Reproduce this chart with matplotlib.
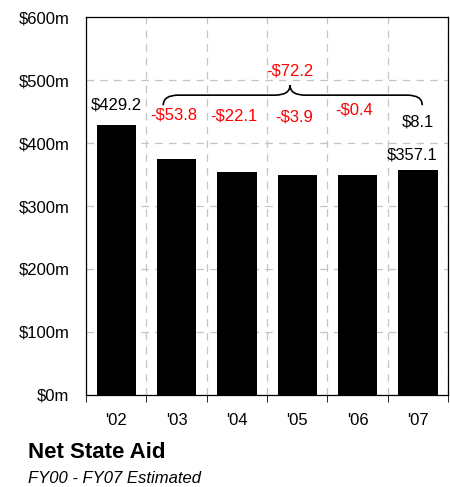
import matplotlib.pyplot as plt
import numpy as np
from matplotlib.path import Path
from matplotlib.patches import PathPatch

plt.rcParams['font.family'] = ['Liberation Sans', 'DejaVu Sans']

years = ["'02", "'03", "'04", "'05", "'06", "'07"]
aid = [429.2, 375.4, 353.3, 349.4, 349.0, 357.1]
changes = ['-$53.8', '-$22.1', '-$3.9', '-$0.4']
total_change = '-$72.2'
last_change = '$8.1'
y_ticks = [0, 100, 200, 300, 400, 500, 600]
y_labels = ['$0m', '$100m', '$200m', '$300m', '$400m', '$500m', '$600m']

fig = plt.figure(figsize=(4.5, 4.87), dpi=100)
ax = fig.add_axes([0.191, 0.189, 0.805, 0.776])

x = np.arange(len(years))
ax.bar(x, aid, width=0.65, color='black', zorder=3)

ax.set_xlim(-0.5, len(years) - 0.5)
ax.set_ylim(0, 600)

# labels at the centres, tick marks at the boundaries
ax.set_xticks(x, years)
ax.set_xticks(np.arange(-0.5, len(years)), minor=True)
ax.tick_params(axis='x', which='major', length=0, pad=13, labelsize=12)
ax.tick_params(axis='x', which='minor', length=5, direction='out')
ax.set_yticks(y_ticks, y_labels)
ax.tick_params(axis='y', length=0, pad=12, labelsize=12)

ax.grid(axis='y', which='major', color='#c4c4c4', linestyle=(0, (6, 5)), linewidth=0.9, zorder=0)
ax.grid(axis='x', which='minor', color='#c4c4c4', linestyle=(0, (6, 5)), linewidth=0.9, zorder=0)
ax.grid(axis='x', which='major', visible=False)

for s in ax.spines.values():
    s.set_linewidth(0.9)

# value labels
fs = 12
ax.text(0, 460, '$' + str(aid[0]), ha='center', va='center', fontsize=fs)
ax.text(4.9, 381, '$' + str(aid[-1]), ha='center', va='center', fontsize=fs)
ch_y = [444, 443, 441, 452]
for i, (c, yy) in enumerate(zip(changes, ch_y)):
    ax.text(i + 0.95, yy, c, ha='center', va='center', fontsize=fs, color='#ff0000')
ax.text(5.0, 433, last_change, ha='center', va='center', fontsize=fs)
ax.text(2.88, 514, total_change, ha='center', va='center', fontsize=fs, color='#ff0000')

# curly brace
x0, x1, xc = 0.78, 5.07, 2.88
ye, ym, yt = 460, 476, 492
d = 0.25
verts = [(x0, ye), (x0, ym), (x0 + d, ym),
         (xc - d, ym), (xc, ym), (xc, yt),
         (xc, ym), (xc + d, ym),
         (x1 - d, ym), (x1, ym), (x1, ye)]
codes = [Path.MOVETO, Path.CURVE3, Path.CURVE3,
         Path.LINETO, Path.CURVE3, Path.CURVE3,
         Path.CURVE3, Path.CURVE3,
         Path.LINETO, Path.CURVE3, Path.CURVE3]
ax.add_patch(PathPatch(Path(verts, codes), facecolor='none', edgecolor='black', linewidth=1.2, zorder=4))

fig.text(0.062, 0.07, 'Net State Aid', fontsize=16, fontweight='bold', va='center')
fig.text(0.062, 0.018, 'FY00 - FY07 Estimated', fontsize=12, style='italic', va='center')

fig.savefig('out.png', dpi=100)
